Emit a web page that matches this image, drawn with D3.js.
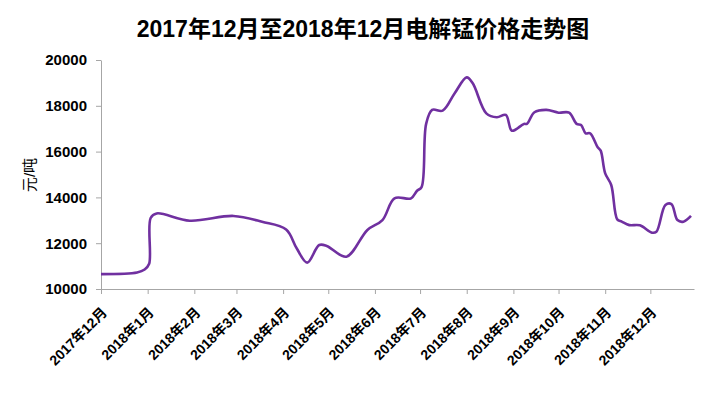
<!DOCTYPE html>
<html>
<head>
<meta charset="utf-8">
<script src="https://cdn.jsdelivr.net/npm/d3@7"></script>
<style>
  body { margin: 0; background: #fff; }
  text { font-family: "Liberation Sans", "Noto Sans CJK SC", sans-serif; }
</style>
</head>
<body>
<div id="chart"></div>
<script>
// Price series (元/吨)
const dates = [
  "2017-12-01", "2017-12-25", "2017-12-30", "2018-01-02", "2018-01-03",
  "2018-01-07", "2018-01-29", "2018-02-27", "2018-03-18", "2018-04-03",
  "2018-04-10", "2018-04-17", "2018-04-25", "2018-04-30", "2018-05-13",
  "2018-05-27", "2018-06-06", "2018-06-14", "2018-06-25", "2018-06-29",
  "2018-07-02", "2018-07-05", "2018-07-09", "2018-07-16", "2018-07-24",
  "2018-08-01", "2018-08-05", "2018-08-14", "2018-08-21", "2018-08-27",
  "2018-08-31", "2018-09-08", "2018-09-10", "2018-09-15", "2018-09-23",
  "2018-10-01", "2018-10-08", "2018-10-13", "2018-10-16", "2018-10-19",
  "2018-10-22", "2018-10-27", "2018-10-29", "2018-11-01", "2018-11-05",
  "2018-11-09", "2018-11-12", "2018-11-17", "2018-11-24", "2018-12-02",
  "2018-12-05", "2018-12-11", "2018-12-15", "2018-12-19", "2018-12-23",
  "2018-12-28"
];
const prices = [
  10650, 10720, 10850, 11100, 13100,
  13300, 12980, 13190, 12940, 12600,
  11780, 11150, 11920, 11880, 11410,
  12580, 13010, 13960, 13960, 14290,
  14450, 17200, 17820, 17790, 18550,
  19240, 18980, 17670, 17500, 17600,
  16910, 17210, 17210, 17720, 17820,
  17700, 17700, 17210, 17160, 16800,
  16800, 16190, 16040, 15050, 14540,
  13040, 12940, 12790, 12780, 12460,
  12500, 13670, 13710, 13010, 12940,
  13190
];
const tickMonths = [
  "2017-12-01", "2018-01-01", "2018-02-01", "2018-03-01", "2018-04-01",
  "2018-05-01", "2018-06-01", "2018-07-01", "2018-08-01", "2018-09-01",
  "2018-10-01", "2018-11-01", "2018-12-01"
];
const yTicks = [10000, 12000, 14000, 16000, 18000, 20000];

const margin = { top: 60, right: 33, bottom: 105, left: 101 };
const width = 727 - margin.left - margin.right;
const height = 394 - margin.top - margin.bottom;

const parse = d3.timeParse("%Y-%m-%d");
const data = dates.map((d, i) => ({ date: parse(d), value: prices[i] }));

const svg = d3
  .select("#chart")
  .append("svg")
  .attr("width", 727)
  .attr("height", 394);

const g = svg
  .append("g")
  .attr("transform", `translate(${margin.left},${margin.top})`);

const x = d3
  .scaleTime()
  .domain([parse("2017-12-01"), parse("2018-12-30")])
  .range([0, width]);

const y = d3.scaleLinear().domain([10000, 20000]).range([height, 0]);

// Title
svg
  .append("text")
  .attr("x", 363)
  .attr("y", 37)
  .attr("text-anchor", "middle")
  .style("font-size", "23px")
  .style("font-weight", "bold")
  .text("2017年12月至2018年12月电解锰价格走势图");

// Y axis
const yAxis = g
  .append("g")
  .call(
    d3
      .axisLeft(y)
      .tickValues(yTicks)
      .tickFormat(d3.format("d"))
      .tickSize(5)
      .tickSizeOuter(0)
      .tickPadding(9)
  );
yAxis.selectAll("text").style("font-size", "15px").style("font-weight", "bold").attr("fill", "#000");

// X axis
const xAxis = g
  .append("g")
  .attr("transform", `translate(0,${height})`)
  .call(
    d3
      .axisBottom(x)
      .tickValues(tickMonths.map(parse))
      .tickSize(5)
      .tickSizeOuter(0)
      .tickFormat((d) => `${d.getFullYear()}年${d.getMonth() + 1}月`)
  );
xAxis
  .selectAll("text")
  .attr("text-anchor", "end")
  .attr("x", 0)
  .attr("y", 0)
  .attr("dy", "0.35em")
  .attr("transform", "translate(3,21) rotate(-45)")
  .style("font-size", "14px")
  .style("font-weight", "bold")
  .attr("fill", "#000");

svg.selectAll(".domain, .tick line").attr("stroke", "#a6a6a6");

// Y axis label
svg
  .append("text")
  .attr("transform", "translate(35,175) rotate(-90)")
  .attr("text-anchor", "middle")
  .style("font-size", "15px")
  .text("元/吨");

// Price line
const line = d3
  .line()
  .x((d) => x(d.date))
  .y((d) => y(d.value))
  .curve(d3.curveCatmullRom.alpha(0.5));

g.append("path")
  .datum(data)
  .attr("fill", "none")
  .attr("stroke", "#7030a0")
  .attr("stroke-width", 2.6)
  .attr("d", line);
</script>
</body>
</html>
